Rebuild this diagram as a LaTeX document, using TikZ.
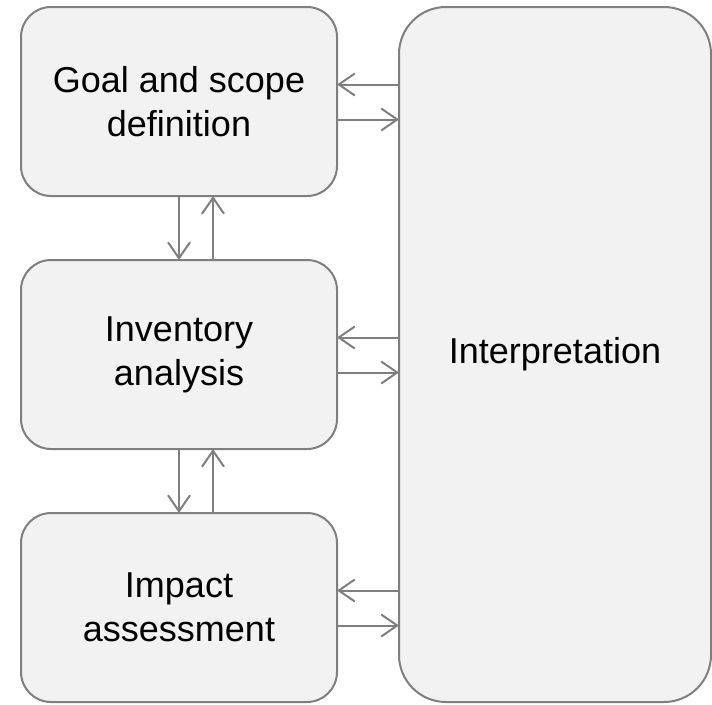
\documentclass[tikz,border=0pt]{standalone}
\usepackage{fontspec}
\setmainfont{Liberation Sans}
\usetikzlibrary{positioning,arrows.meta}
\definecolor{linegray}{HTML}{7F7F7F}
\definecolor{boxgray}{HTML}{F2F2F2}

\begin{document}
\begin{tikzpicture}[x=1pt,y=-1pt]
\tikzstyle{every node}+=[inner sep=0pt, outer sep=0pt]
\tikzstyle{stage}=[draw=linegray, fill=boxgray, line width=2pt, rounded corners=30pt, minimum width=316pt, minimum height=189pt, align=center, font=\fontsize{36}{44}\selectfont]
\tikzstyle{link}=[draw=linegray, line width=2pt, -{Straight Barb[length=16pt,width=22pt]}]
\useasboundingbox (0,0) rectangle (712,704);
\node [stage] (goal) at (179,101.5) {Goal and scope\\definition};
\node [stage, below=64pt of goal] (inv) {Inventory\\analysis};
\node [stage, below=64pt of inv] (impact) {Impact\\assessment};
\node [stage, minimum width=312pt, minimum height=695pt, rounded corners=47pt] (interp) at (555,354.5) {Interpretation};
% to and from the interpretation
\foreach \b in {goal,inv,impact} {
  \draw [link] ([yshift=17pt]\b.east -| interp.west) -- ([yshift=17pt]\b.east);
  \draw [link] ([yshift=-18pt]\b.east) -- ([yshift=-18pt]\b.east -| interp.west);
}
% between the stages
\draw [link] (goal.south) -- (inv.north);
\draw [link] ([xshift=34pt]inv.north) -- ([xshift=34pt]goal.south);
\draw [link] (inv.south) -- (impact.north);
\draw [link] ([xshift=34pt]impact.north) -- ([xshift=34pt]inv.south);
\end{tikzpicture}
\end{document}
